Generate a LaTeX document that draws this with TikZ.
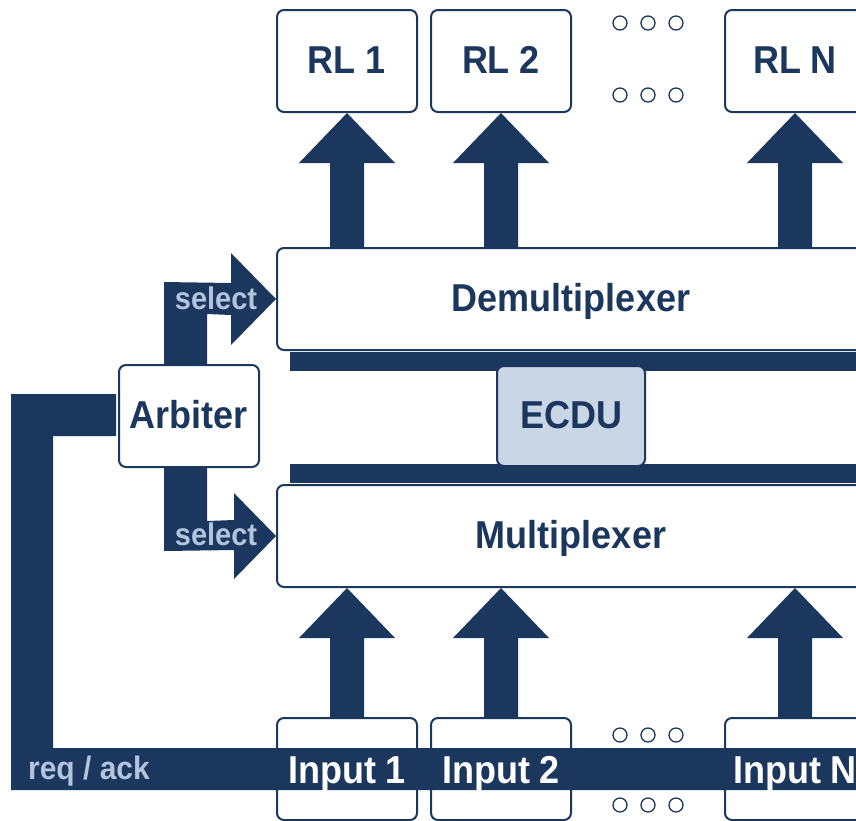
\documentclass[tikz,border=0pt]{standalone}
\usepackage{fontspec}
\setmainfont{Liberation Sans}
\usetikzlibrary{calc}
\definecolor{navy}{RGB}{27,55,94}
\definecolor{lightb}{RGB}{178,196,222}
\definecolor{ecdufill}{RGB}{200,214,230}
\newcommand\st[1]{\scalebox{1}[1.08]{#1}}
\tikzset{
  box/.style={draw=navy, line width=2pt, rounded corners=7pt, fill=white,
    minimum width=140pt, minimum height=102pt, inner sep=0pt, text=navy,
    text height=25pt, text depth=0pt,
    font=\fontsize{36}{40}\selectfont\bfseries},
  widebox/.style={box, minimum width=588pt},
  inbox/.style={box, fill=none, text=white, text height=28pt},
  dotc/.style={draw=navy, line width=1.3pt, fill=white},
  lbl/.style={text=lightb, inner sep=0pt, text height=20pt, text depth=0pt,
    font=\fontsize{29}{32}\selectfont\bfseries}
}
\newcommand\blockup[2]{\fill[navy] let \p1=(#1), \p2=(#2) in
  (\x1-17pt,\y1) -- (\x1-17pt,\y2-50pt) -- (\x1-48pt,\y2-50pt) -- (\x1,\y2)
  -- (\x1+48pt,\y2-50pt) -- (\x1+17pt,\y2-50pt) -- (\x1+17pt,\y1) -- cycle;}
\begin{document}
\begin{tikzpicture}[x=1pt,y=-1pt]
\useasboundingbox (0,0) rectangle (856,820);
\clip (0,0) rectangle (856,820);
% boxes
\node[box] (rl1) at (347,61) {\st{RL 1}};
\node[box] (rl2) at (501,61) {\st{RL 2}};
\node[box] (rln) at (795,61) {\st{RL N}};
\node[widebox] (demux) at (571,299) {\st{Demultiplexer}};
\node[widebox] (mux) at (571,536) {\st{Multiplexer}};
\node[box] (arb) at (189,416) {\st{Arbiter}};
% bars around ECDU
\fill[navy] ($(demux.south west)+(14,1)$) rectangle ($(demux.south east)+(0,20)$);
\fill[navy] ($(mux.north west)+(14,-1)$) rectangle ($(mux.north east)+(0,-20)$);
\node[box, fill=ecdufill, minimum width=148pt, minimum height=100pt] (ecdu) at (571,416) {\st{ECDU}};
% req / ack bus
\fill[navy] ($(arb.west)+(-2,-22)$) -- (11,394) -- (11,790) -- (870,790) -- (870,748)
  -- (53,748) -- (53,436) -- ($(arb.west)+(-2,20)$) -- cycle;
\node[lbl, font=\fontsize{30}{32}\selectfont\bfseries] (req) at (89,769) {\st{req / ack}};
% inputs
\node[inbox] (in1) at (347,769) {\st{Input 1}};
\node[inbox] (in2) at (501,769) {\st{Input 2}};
\node[inbox] (inn) at (795,769) {\st{Input N}};
% block arrows
\blockup{demux.north -| rl1.south}{rl1.south}
\blockup{demux.north -| rl2.south}{rl2.south}
\blockup{demux.north -| rln.south}{rln.south}
\blockup{in1.north}{mux.south -| in1.north}
\blockup{in2.north}{mux.south -| in2.north}
\blockup{inn.north}{mux.south -| inn.north}
% select arrows
\fill[navy] ($(arb.north)+(-25,1)$) -- ($(arb.north)+(-25,-82)$) -- ($(demux.west)+(-45,-16)$)
  -- ($(demux.west)+(-45,-46)$) -- (demux.west) -- ($(demux.west)+(-45,46)$)
  -- ($(demux.west)+(-45,16)$) -- ($(arb.north)+(18,-50)$) -- ($(arb.north)+(18,1)$) -- cycle;
\fill[navy] ($(arb.south)+(-25,-1)$) -- ($(arb.south)+(-25,83)$) -- ($(mux.west)+(-42,14)$)
  -- ($(mux.west)+(-42,43)$) -- (mux.west) -- ($(mux.west)+(-42,-43)$)
  -- ($(mux.west)+(-42,-16)$) -- ($(arb.south)+(18,53)$) -- ($(arb.south)+(18,-1)$) -- cycle;
\node[lbl] (sel1) at (216,299) {\st{select}};
\node[lbl] (sel2) at (216,535) {\st{select}};
% dots
\foreach \yy [count=\r] in {23,95,735,805}
  \foreach \xx [count=\c] in {620,648,676}
    \draw[dotc] (\xx,\yy) circle (7);
\end{tikzpicture}
\end{document}
